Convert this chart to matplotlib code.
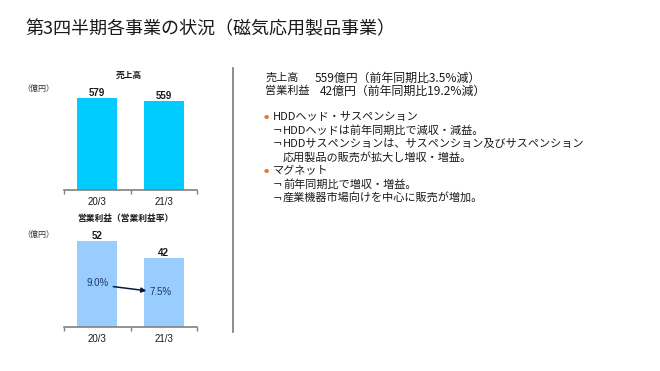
import matplotlib
matplotlib.use("Agg")
import matplotlib.pyplot as plt

plt.rcParams['font.family'] = ['Noto Sans CJK JP', 'DejaVu Sans']

# ---- data ----
periods = ["20/3", "21/3"]
sales = [579, 559]
op_income = [52, 42]
op_margin = [9.0, 7.5]

title = "第3四半期各事業の状況（磁気応用製品事業）"
sales_title = "売上高"
op_title = "営業利益（営業利益率）"
unit = "（億円）"
summary = [("売上高", "559億円（前年同期比3.5%減）"),
           ("営業利益", "42億円（前年同期比19.2%減）")]
bullets = [
    ("HDDヘッド・サスペンション", ["HDDヘッドは前年同期比で減収・減益。",
                               "HDDサスペンションは、サスペンション及びサスペンション\n応用製品の販売が拡大し増収・増益。"]),
    ("マグネット", ["前年同期比で増収・増益。",
               "産業機器市場向けを中心に販売が増加。"]),
]

W, H = 660, 371
fig = plt.figure(figsize=(W / 100, H / 100), dpi=100)


def fx(x):
    return x / W


def fy(y):
    return 1 - y / H


def add_axes_px(x0, x1, ytop, ybot):
    return fig.add_axes([fx(x0), fy(ybot), (x1 - x0) / W, (ybot - ytop) / H])


text_col = "#1a1a1a"
axis_col = "#808080"
latin = ["Liberation Sans", "DejaVu Sans"]

# Title
fig.text(fx(25), fy(29), title, fontsize=13.0, color=text_col, va="center", ha="left")


def style_axis(ax):
    for s in ["top", "left", "right"]:
        ax.spines[s].set_visible(False)
    ax.spines["bottom"].set_color(axis_col)
    ax.spines["bottom"].set_linewidth(1.2)
    ax.set_xlim(-0.5, len(periods) - 0.5)
    ax.set_yticks([])
    ax.set_xticks(range(len(periods)))
    ax.set_xticklabels(periods, fontsize=7, color=text_col, family=latin)
    ax.tick_params(axis="x", which="major", length=0, pad=5)
    ax.set_xticks([i - 0.5 for i in range(len(periods) + 1)], minor=True)
    ax.tick_params(axis="x", which="minor", length=3, color=axis_col, width=1, direction="out")
    ax.patch.set_alpha(0)


# Top chart: sales
ax1 = add_axes_px(64, 197, 60, 190)
ax1.bar(range(len(periods)), sales, width=0.6, color="#00CCFF")
ax1.set_ylim(0, 579 * 130 / 92)
style_axis(ax1)
for i, v in enumerate(sales):
    ax1.text(i, v, f"{v}", ha="center", va="bottom", fontsize=7, fontweight="bold",
             color=text_col, family=latin)
fig.text(fx(129), fy(75), sales_title, fontsize=6.3, fontweight="bold", color=text_col, ha="center", va="center")
fig.text(fx(22), fy(88), unit, fontsize=5.8, color="#333333", ha="left", va="center")

# Bottom chart: operating income
ax2 = add_axes_px(64, 197, 230, 327)
ax2.bar(range(len(periods)), op_income, width=0.6, color="#99CCFF")
ymax2 = 52 * 97 / 86
ax2.set_ylim(0, ymax2)
style_axis(ax2)
for i, v in enumerate(op_income):
    ax2.text(i, v, f"{v}", ha="center", va="bottom", fontsize=7, fontweight="bold",
             color=text_col, family=latin)
fig.text(fx(125), fy(218), op_title, fontsize=6.3, fontweight="bold", color=text_col, ha="center", va="center")
fig.text(fx(22), fy(234), unit, fontsize=5.8, color="#333333", ha="left", va="center")

# margin labels and arrow
navy = "#1F3864"
ax2.text(0.01, ymax2 * 0.45, f"{op_margin[0]:.1f}%", ha="center", va="center", fontsize=7,
         color=navy, family=latin)
ax2.text(0.95, ymax2 * 0.36, f"{op_margin[1]:.1f}%", ha="center", va="center", fontsize=7,
         color=navy, family=latin)
ax2.annotate("", xy=(0.78, ymax2 * 0.37), xytext=(0.2, ymax2 * 0.42),
             arrowprops=dict(arrowstyle="-|>", color="#0a1a3a", lw=1.1, mutation_scale=7))

# Divider
fig.add_artist(plt.Line2D([fx(233), fx(233)], [fy(68), fy(332)], color="#7a7a7a", lw=1.2))

# Right text
fs = 8.0
ys = [78, 91]
xv = [315, 320]
for (lab, val), y, x2 in zip(summary, ys, xv):
    fig.text(fx(265), fy(y), lab, fontsize=fs, color=text_col, ha="left", va="center")
    fig.text(fx(x2), fy(y), val, fontsize=8.6, color=text_col, ha="left", va="center")

y = 117
line_h = 13.6
for head, subs in bullets:
    fig.text(fx(264), fy(y), "●", fontsize=3.8, color="#E07B39", ha="left", va="center")
    fig.text(fx(273), fy(y), head, fontsize=fs, color=text_col, ha="left", va="center")
    y += line_h
    for s in subs:
        parts = s.split("\n")
        fig.text(fx(273), fy(y), "¬", fontsize=fs, color=text_col, ha="left", va="center",
                 family=["DejaVu Sans"])
        for p in parts:
            fig.text(fx(283), fy(y), p, fontsize=fs, color=text_col, ha="left", va="center")
            y += line_h

fig.savefig("out.png", dpi=100)
